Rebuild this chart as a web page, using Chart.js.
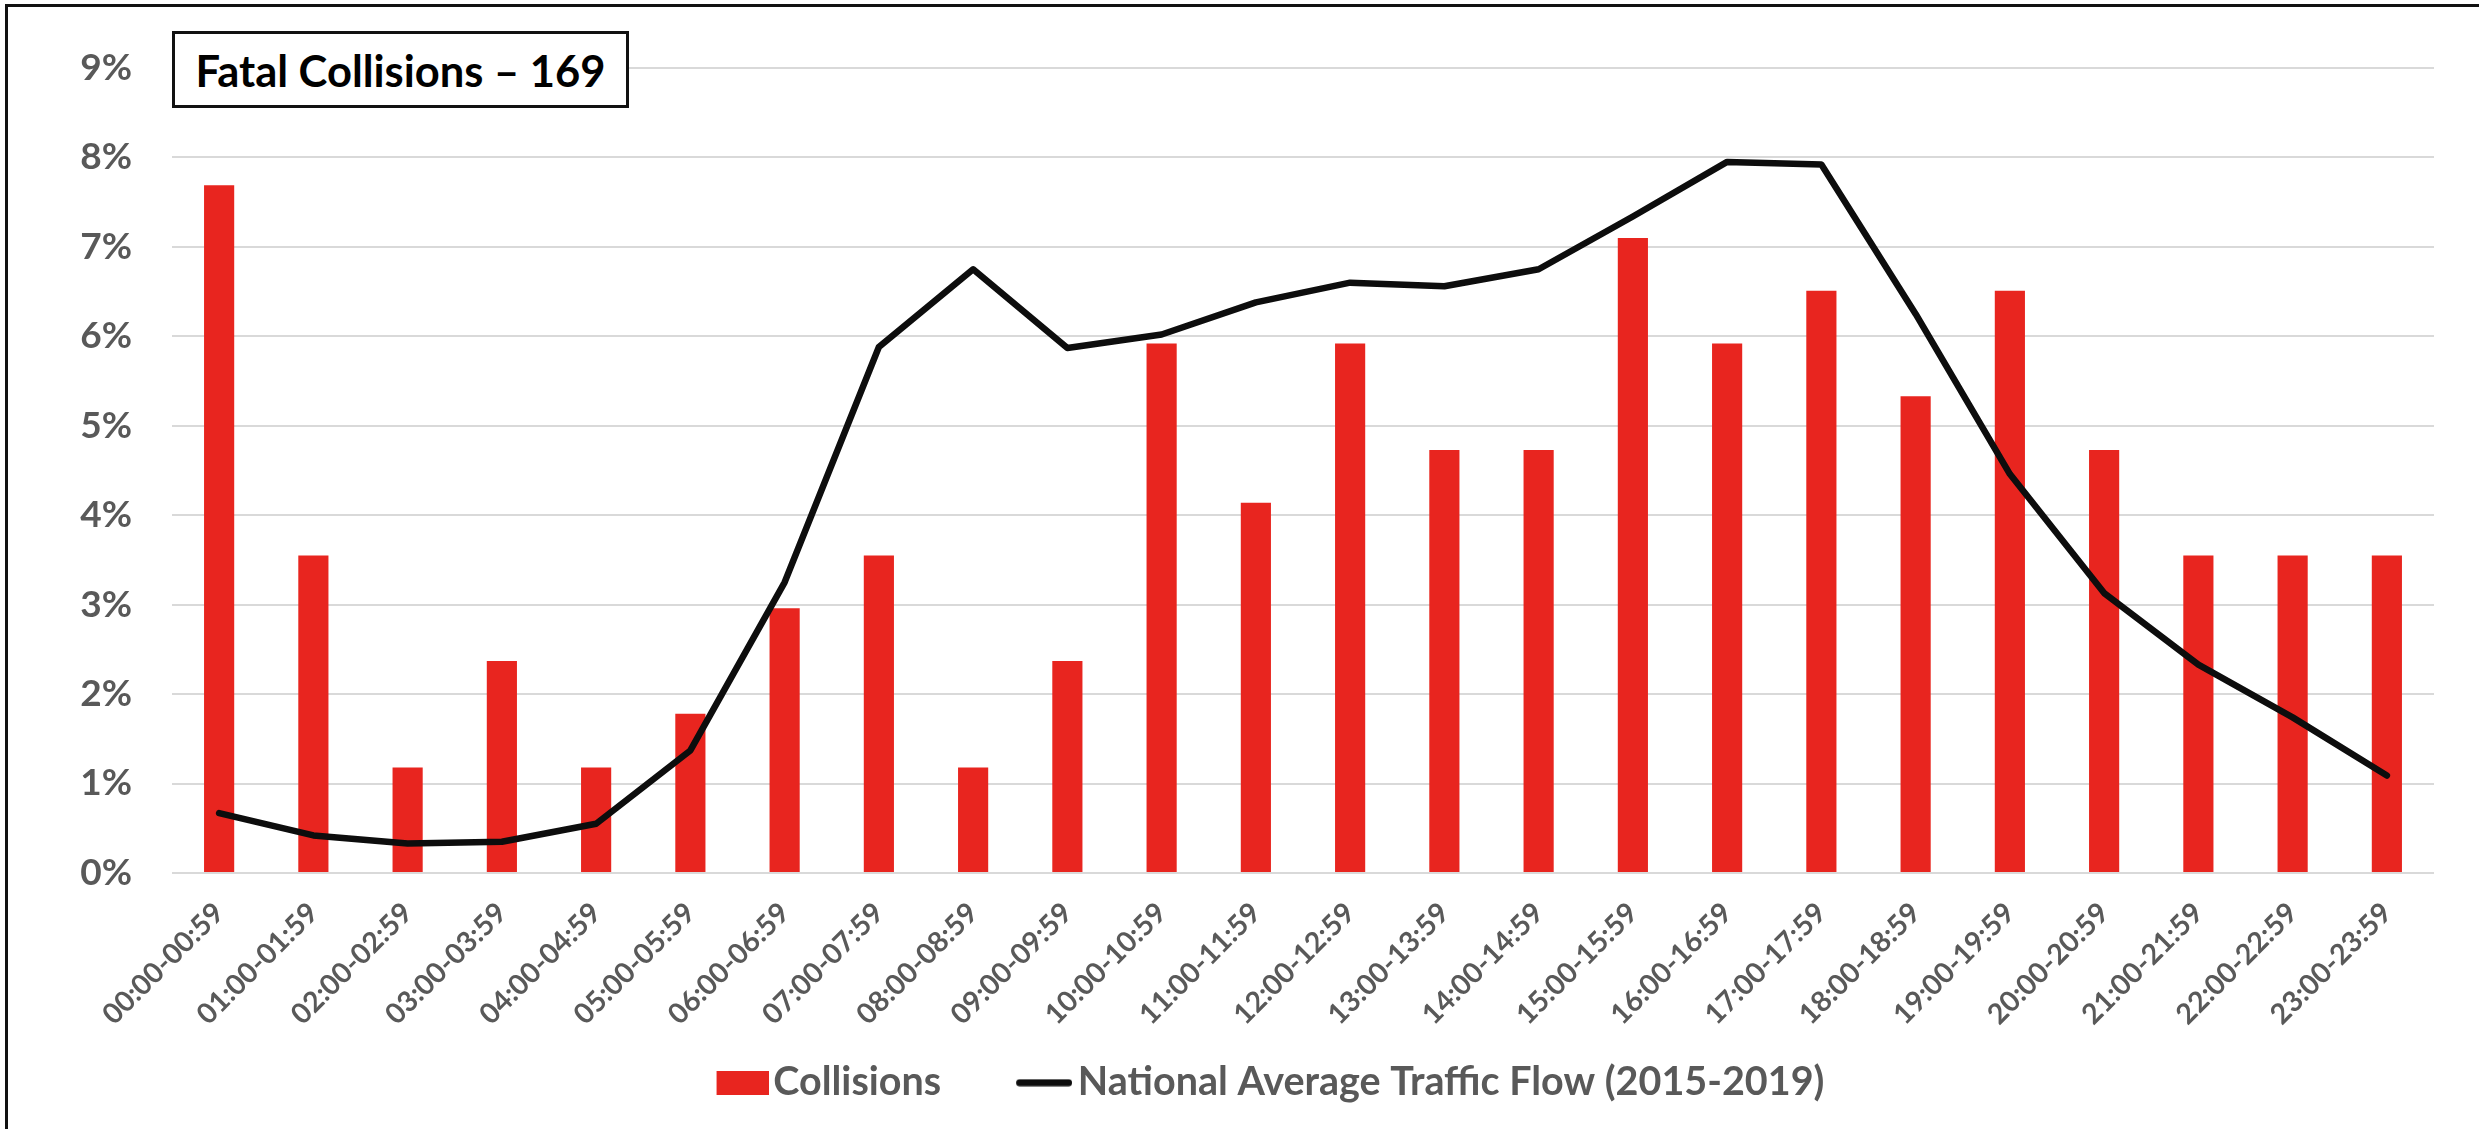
<!DOCTYPE html>
<html>
<head>
<meta charset="utf-8">
<script src="https://cdn.jsdelivr.net/npm/chart.js@4.4.1/dist/chart.umd.min.js"></script>
<style>
  html, body { margin: 0; padding: 0; background: #ffffff; }
  body { width: 2479px; height: 1129px; position: relative; overflow: hidden; }
  #frame { position: absolute; left: 5px; top: 4px; right: -10px; bottom: -10px;
           border-left: 3px solid #111; border-top: 3px solid #111; pointer-events: none; z-index: 3; }
  #wrap { position: absolute; left: 0; top: 0; width: 2479px; height: 1129px; }
  #title { position: absolute; left: 172px; top: 31px; width: 457px; height: 77px; box-sizing: border-box;
           border: 3px solid #111; background: #fff; z-index: 2;
           font-family: Lato, "Open Sans", sans-serif; font-weight: 700; font-size: 43.5px; color: #000;
           display: flex; align-items: center; justify-content: center; }
</style>
</head>
<body>
<div id="frame"></div>
<div id="wrap"><canvas id="c" width="2479" height="1129"></canvas></div>
<div id="title">Fatal Collisions – 169</div>
<script>
const categories = ["00:00-00:59","01:00-01:59","02:00-02:59","03:00-03:59","04:00-04:59","05:00-05:59",
  "06:00-06:59","07:00-07:59","08:00-08:59","09:00-09:59","10:00-10:59","11:00-11:59",
  "12:00-12:59","13:00-13:59","14:00-14:59","15:00-15:59","16:00-16:59","17:00-17:59",
  "18:00-18:59","19:00-19:59","20:00-20:59","21:00-21:59","22:00-22:59","23:00-23:59"];
const collisions = [7.69,3.55,1.18,2.37,1.18,1.78,2.96,3.55,1.18,2.37,5.92,4.14,
  5.92,4.73,4.73,7.10,5.92,6.51,5.33,6.51,4.73,3.55,3.55,3.55];
const trafficFlow = [0.67,0.42,0.33,0.35,0.55,1.37,3.25,5.88,6.75,5.87,6.02,6.38,
  6.60,6.56,6.75,7.34,7.95,7.92,6.25,4.46,3.13,2.33,1.74,1.09];
const yTicks = [0,1,2,3,4,5,6,7,8,9];
const seriesNames = ['Collisions', 'National Average Traffic Flow (2015-2019)'];

const FONT = 'Lato';
const GREY = '#595959';
const RED = '#e8251f';
const BLACK = '#0d0d0d';

// legend marker images (marker drawn at the right end of a wider transparent canvas)
function rectMarker() {
  const c = document.createElement('canvas'); c.width = 124; c.height = 24;
  const g = c.getContext('2d'); g.fillStyle = RED; g.fillRect(72, 0, 52, 24);
  return c;
}
function lineMarker() {
  const c = document.createElement('canvas'); c.width = 122; c.height = 8;
  const g = c.getContext('2d'); g.strokeStyle = BLACK; g.lineWidth = 7; g.lineCap = 'round';
  g.beginPath(); g.moveTo(69.5, 4); g.lineTo(118.5, 4); g.stroke();
  return c;
}
const markers = [rectMarker(), lineMarker()];

new Chart(document.getElementById('c'), {
  data: {
    labels: categories,
    datasets: [
      { type: 'bar', label: seriesNames[0], data: collisions,
        backgroundColor: RED, borderWidth: 0,
        barPercentage: 0.32, categoryPercentage: 1.0, order: 2 },
      { type: 'line', label: seriesNames[1], data: trafficFlow,
        borderColor: BLACK, backgroundColor: BLACK, borderWidth: 6.5,
        pointRadius: 0, tension: 0, borderCapStyle: 'round', borderJoinStyle: 'round', order: 1 }
    ]
  },
  options: {
    responsive: false,
    animation: false,
    devicePixelRatio: 1,
    layout: { padding: { left: 50, right: 45, top: 68, bottom: 16.5 } },
    plugins: {
      title: { display: false },
      tooltip: { enabled: false },
      legend: {
        position: 'bottom',
        labels: {
          usePointStyle: true,
          pointStyleWidth: 94,
          padding: 23,
          color: GREY,
          font: { family: FONT, weight: '700', size: 39.5 },
          generateLabels: (chart) => chart.data.datasets.map((ds, i) => ({
            text: ds.label, datasetIndex: i, pointStyle: markers[i],
            fillStyle: i === 0 ? RED : BLACK, strokeStyle: i === 0 ? RED : BLACK,
            lineWidth: 0, hidden: false, fontColor: GREY
          }))
        }
      }
    },
    scales: {
      x: {
        grid: { display: false },
        border: { display: false },
        ticks: { color: GREY, font: { family: FONT, weight: '700', size: 28.5 },
                 minRotation: 45, maxRotation: 45, padding: 15, autoSkip: false },
        afterFit: (s) => { s.height = 167; }
      },
      y: {
        min: 0, max: 9,
        afterBuildTicks: (s) => { s.ticks = yTicks.map(v => ({ value: v })); },
        grid: { color: '#d9d9d9', lineWidth: 2, drawTicks: false },
        border: { display: false },
        ticks: { color: GREY, font: { family: FONT, weight: '700', size: 37 }, padding: 40,
                 callback: (v) => v + '%' },
        afterFit: (s) => { s.width = 122; }
      }
    }
  }
});
</script>
</body>
</html>
